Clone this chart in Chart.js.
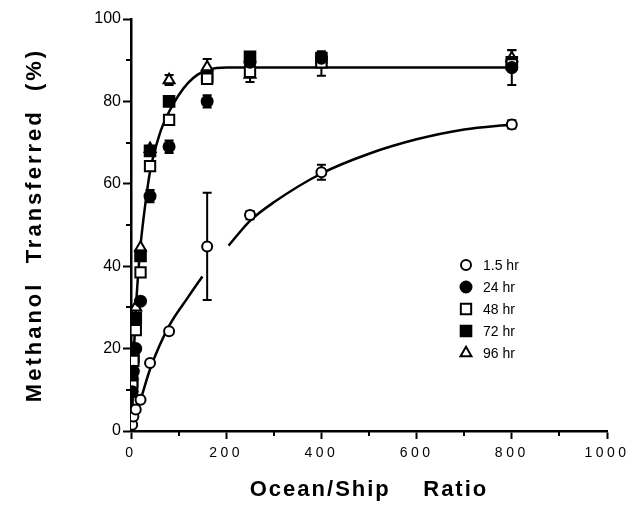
<!DOCTYPE html>
<html>
<head>
<meta charset="utf-8">
<script src="https://cdn.jsdelivr.net/npm/chart.js@4.4.1/dist/chart.umd.min.js"></script>
<style>
  body { margin: 0; background: #fff; }
  canvas { display: block; }
</style>
</head>
<body>
<canvas id="grafico" width="629" height="514"></canvas>
<script>
// razao oceano/navio (eixo x)
const ratio = [2.5, 5, 10, 20, 40, 80, 160, 250, 400, 800];

// % metanol transferido por tempo
const hr1_5 = [1.5, 3.5, 5.2, 7.6, 16.5, 24.2, 44.8, 52.4, 62.8, 74.4];
const hr24 = [9.5, 14.5, 20, 31.5, 57, 69, 80, 89.5, 90.5, 88.2];
const hr48 = [11, 17, 24.5, 38.5, 64.3, 75.5, 85.5, 87.2, 89.5, 89];
const hr72 = [12, 18, 27.5, 42.5, 68, 80, 86, 90.8, 90.5, 89.5];
const hr96 = [13.5, 20, 30, 44.5, 68.5, 85.2, 88.3, 86.5, 89.2, 90.5];

// barras de erro (+/-)
const err1_5 = [0, 0, 0, 0, 0, 0, 13, 1, 1.8, 1];
const err24 = [0, 0, 0, 0, 1.5, 1.5, 1.5, 0, 0, 4.2];
const err48 = [0, 0, 0, 0, 0, 0, 0, 0, 0, 0];
const err72 = [0, 0, 0, 0, 0, 0, 0, 1.2, 0, 0];
const err96 = [0, 0, 0, 0, 0, 1.2, 2, 1.8, 3, 2];

// curvas ajustadas
const curvaAltaX = [2, 5, 10, 15, 20, 30, 40, 60, 80, 100, 120, 140, 160, 180, 200, 800];
const curvaAltaY = [0, 15, 29, 38, 45, 55, 63, 72, 77.5, 81.5, 84.5, 86.5, 87.6, 88.1, 88.2, 88.2];
const curvaBaixaX = [0, 10, 20, 40, 80, 120, 150, 175, 205, 250, 300, 400, 500, 600, 700, 800];
const curvaBaixaY = [0, 4, 7.5, 15, 25.5, 32.5, 37.5, null, 45, 51, 55.5, 62.5, 67.3, 70.8, 73.2, 74.4];

const xTicks = [0, 200, 400, 600, 800, 1000];
const yTicks = [0, 20, 40, 60, 80, 100];

const fonte = "'Liberation Sans', Arial, sans-serif";

function pontos(xs, ys) {
  return xs.map((x, i) => ({ x: x, y: ys[i] }));
}

function serie(label, valores, erros, estilo, fundo, raio) {
  return {
    label: label,
    data: pontos(ratio, valores),
    erro: erros,
    showLine: false,
    pointStyle: estilo,
    pointRadius: raio,
    pointBackgroundColor: fundo,
    pointBorderColor: "#000",
    pointBorderWidth: 2,
    order: 0,
  };
}

function curva(xs, ys) {
  return {
    label: "",
    data: pontos(xs, ys),
    showLine: true,
    pointRadius: 0,
    borderColor: "#000",
    borderWidth: 2.5,
    cubicInterpolationMode: "monotone",
    spanGaps: false,
    order: 10,
    legenda: false,
  };
}

const datasets = [
  serie("1.5 hr", hr1_5, err1_5, "circle", "#fff", 5),
  serie("24 hr", hr24, err24, "circle", "#000", 5.5),
  serie("48 hr", hr48, err48, "rect", "#fff", 7.3),
  serie("72 hr", hr72, err72, "rect", "#000", 7.5),
  serie("96 hr", hr96, err96, "triangle", "#fff", 6.3),
  curva(curvaAltaX, curvaAltaY),
  curva(curvaBaixaX, curvaBaixaY),
];

// espacamento entre letras nos rotulos / titulos de cada eixo
function espacar(scale, rotulos, titulo) {
  if (scale._espacado) return;
  scale._espacado = true;
  const dl = scale.drawLabels.bind(scale);
  const dt = scale.drawTitle.bind(scale);
  scale.drawLabels = (a) => {
    scale.ctx.letterSpacing = rotulos;
    dl(a);
    scale.ctx.letterSpacing = "0px";
  };
  scale.drawTitle = () => {
    scale.ctx.letterSpacing = titulo;
    dt();
    scale.ctx.letterSpacing = "0px";
  };
}

const barrasErro = {
  id: "barrasErro",
  beforeDatasetsDraw(chart) {
    const ctx = chart.ctx;
    const sx = chart.scales.x;
    const sy = chart.scales.y;
    ctx.save();
    ctx.strokeStyle = "#000";
    ctx.lineWidth = 2;
    chart.data.datasets.forEach((ds) => {
      if (!ds.erro) return;
      ds.data.forEach((p, i) => {
        const e = ds.erro[i];
        if (!e) return;
        const px = sx.getPixelForValue(p.x);
        const topo = sy.getPixelForValue(p.y + e);
        const base = sy.getPixelForValue(p.y - e);
        ctx.beginPath();
        ctx.moveTo(px, topo);
        ctx.lineTo(px, base);
        ctx.moveTo(px - 4.5, topo);
        ctx.lineTo(px + 4.5, topo);
        ctx.moveTo(px - 4.5, base);
        ctx.lineTo(px + 4.5, base);
        ctx.stroke();
      });
    });
    ctx.restore();
  },
};

// ticks menores (10 em 10 no y, 100 em 100 no x)
const ticksMenores = {
  id: "ticksMenores",
  afterDraw(chart) {
    const ctx = chart.ctx;
    const sx = chart.scales.x;
    const sy = chart.scales.y;
    const area = chart.chartArea;
    ctx.save();
    ctx.strokeStyle = "#000";
    ctx.lineWidth = 2;
    ctx.beginPath();
    for (let v = 10; v < 100; v += 20) {
      const py = Math.round(sy.getPixelForValue(v));
      ctx.moveTo(area.left, py);
      ctx.lineTo(area.left - 5, py);
    }
    for (let v = 100; v < 1000; v += 200) {
      const px = Math.round(sx.getPixelForValue(v));
      ctx.moveTo(px, area.bottom);
      ctx.lineTo(px, area.bottom + 5);
    }
    ctx.stroke();
    ctx.restore();
  },
};

const legenda = {
  id: "legenda",
  afterDraw(chart) {
    const ctx = chart.ctx;
    ctx.save();
    ctx.font = "14px " + fonte;
    ctx.textBaseline = "middle";
    ctx.textAlign = "left";
    let linha = 0;
    chart.data.datasets.forEach((ds) => {
      if (ds.legenda === false) return;
      const y = 265 + linha * 22;
      ctx.fillStyle = ds.pointBackgroundColor;
      ctx.strokeStyle = "#000";
      ctx.lineWidth = 2;
      Chart.helpers.drawPoint(ctx, {
        pointStyle: ds.pointStyle,
        radius: ds.pointRadius,
        borderWidth: 2,
        rotation: 0,
      }, 466, y);
      ctx.fillStyle = "#000";
      ctx.fillText(ds.label, 483, y + 1);
      linha++;
    });
    ctx.restore();
  },
};

new Chart(document.getElementById("grafico"), {
  type: "scatter",
  data: { datasets: datasets },
  options: {
    responsive: false,
    animation: false,
    layout: { padding: { top: 19, right: 22, left: 0, bottom: 0 } },
    plugins: {
      legend: { display: false },
      tooltip: { enabled: false },
    },
    scales: {
      x: {
        type: "linear",
        min: 0,
        max: 1000,
        afterFit: (s) => { s.height = 83; },
        afterUpdate: (s) => espacar(s, "3.5px", "2px"),
        afterBuildTicks: (s) => { s.ticks = xTicks.map((v) => ({ value: v })); },
        ticks: {
          color: "#000",
          font: { family: fonte, size: 14 },
          padding: 6,
          maxRotation: 0,
          callback: (v) => String(v),
        },
        grid: { drawOnChartArea: false, tickLength: 8, tickWidth: 2, tickColor: "#000" },
        border: { color: "#000", width: 2.5 },
        title: {
          display: true,
          text: "Ocean/Ship    Ratio",
          color: "#000",
          font: { family: fonte, size: 22, weight: "bold" },
          padding: { top: 0, bottom: 11 },
        },
      },
      y: {
        min: 0,
        max: 100,
        afterFit: (s) => { s.width = 131; },
        afterUpdate: (s) => espacar(s, "0px", "3px"),
        afterBuildTicks: (s) => { s.ticks = yTicks.map((v) => ({ value: v })); },
        ticks: {
          color: "#000",
          font: { family: fonte, size: 16 },
          padding: 2,
          callback: (v) => String(v),
        },
        grid: { drawOnChartArea: false, tickLength: 8, tickWidth: 2, tickColor: "#000" },
        border: { color: "#000", width: 2.5 },
        title: {
          display: true,
          text: "Methanol  Transferred  (%)",
          color: "#000",
          font: { family: fonte, size: 22, weight: "bold" },
          padding: { top: 22, bottom: 0 },
        },
      },
    },
  },
  plugins: [barrasErro, ticksMenores, legenda],
});
</script>
</body>
</html>
